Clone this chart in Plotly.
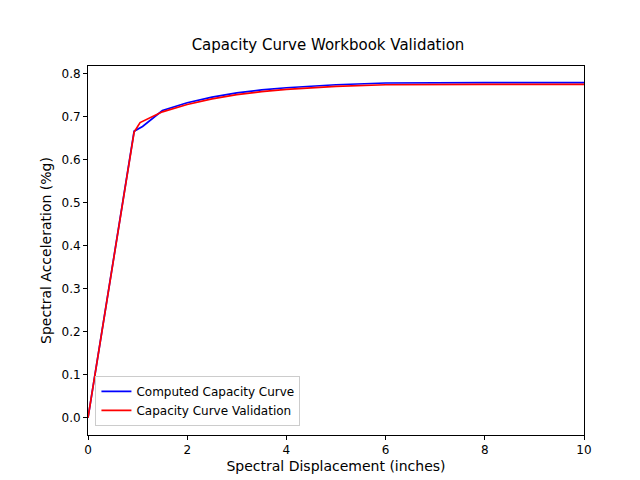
import plotly.graph_objects as go

sd_computed = [0, 0.93, 1.1, 1.5, 2.0, 2.5, 3.0, 3.5, 4.0, 5.0, 6.0, 7.0, 8.0, 10.0]
sa_computed = [0, 0.667, 0.678, 0.715, 0.733, 0.746, 0.756, 0.763, 0.768, 0.775, 0.779, 0.780, 0.780, 0.780]
sd_valid = [0, 0.93, 1.05, 1.5, 2.0, 2.5, 3.0, 3.5, 4.0, 5.0, 6.0, 7.0, 8.0, 10.0]
sa_valid = [0, 0.665, 0.687, 0.712, 0.729, 0.742, 0.752, 0.759, 0.764, 0.771, 0.775, 0.776, 0.776, 0.776]

fig = go.Figure()
fig.add_trace(go.Scatter(x=sd_computed, y=sa_computed, mode="lines", name="Computed Capacity Curve",
                         line=dict(color="blue", width=1.7)))
fig.add_trace(go.Scatter(x=sd_valid, y=sa_valid, mode="lines", name="Capacity Curve Validation",
                         line=dict(color="red", width=1.7)))

axis = dict(showgrid=False, zeroline=False, showline=True, mirror=True, linecolor="black",
            ticks="outside", ticklen=4, tickcolor="black", automargin=False)
fig.update_layout(
    width=640, height=480, plot_bgcolor="white", paper_bgcolor="white",
    margin=dict(l=80, r=64, t=58, b=53, autoexpand=False),
    font=dict(family="DejaVu Sans", size=12, color="black"),
    title=dict(text="Capacity Curve Workbook Validation", x=0.5, xanchor="center", y=0.935, font=dict(size=15)),
    xaxis=dict(axis, range=[0, 10], dtick=2, title=dict(text="Spectral Displacement (inches)", standoff=4)),
    yaxis=dict(axis, range=[-0.04, 0.8186], dtick=0.1, tickformat=".1f",
               title=dict(text="Spectral Acceleration (%g)", standoff=6)),
    legend=dict(x=0.015, y=0.025, xanchor="left", yanchor="bottom", bordercolor="#cccccc",
                borderwidth=1, bgcolor="white", font=dict(size=12)),
)
fig.write_html("out.html")
